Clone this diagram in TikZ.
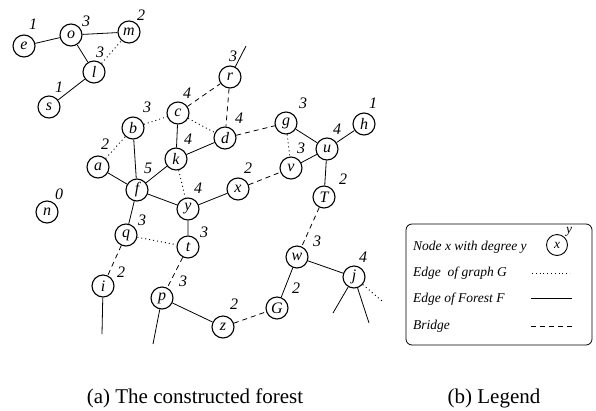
\documentclass[tikz,border=0pt]{standalone}
\usepackage{fontspec}
\setmainfont{Liberation Serif}
\begin{document}
\begin{tikzpicture}[x=1pt,y=-1pt,
  vtx/.style={circle,draw,line width=1.1pt,minimum size=22pt,inner sep=0pt,font=\fontsize{16}{16}\selectfont\itshape},
  deg/.style={font=\fontsize{16}{16}\selectfont\itshape,inner sep=0pt},
  forest/.style={line width=0.8pt},
  gedge/.style={line width=0.9pt,dash pattern=on 1pt off 3pt},
  bridge/.style={line width=0.8pt,dash pattern=on 5pt off 4pt},
  legtxt/.style={anchor=west,inner sep=0pt,font=\fontsize{13.5}{13.5}\selectfont\itshape},
  captxt/.style={inner sep=0pt,anchor=base,font=\fontsize{21}{21}\selectfont}
  ]
\useasboundingbox (0,0) rectangle (596,410);
% vertices
\node[vtx] (e) at (24,46) {e};
\node[vtx] (o) at (71,35) {o};
\node[vtx] (m) at (129,32) {m};
\node[vtx] (l) at (94,72) {l};
\node[vtx] (s) at (49,107) {s};
\node[vtx] (b) at (133,128) {b};
\node[vtx] (c) at (178,113) {c};
\node[vtx] (r) at (230,77) {r};
\node[vtx] (d) at (225,138) {d};
\node[vtx] (k) at (176,159) {k};
\node[vtx] (g) at (286,123) {g};
\node[vtx] (u) at (327,149) {u};
\node[vtx] (h) at (364,124) {h};
\node[vtx] (v) at (291,168) {v};
\node[vtx] (T) at (324,197) {T};
\node[vtx] (x) at (238,189) {x};
\node[vtx] (a) at (98,167) {a};
\node[vtx] (f) at (137,190) {f};
\node[vtx] (y) at (188,209) {y};
\node[vtx] (n) at (47,212) {n};
\node[vtx] (q) at (126,235) {q};
\node[vtx] (t) at (188,247) {t};
\node[vtx] (i) at (103,286) {i};
\node[vtx] (p) at (162,298) {p};
\node[vtx] (z) at (223,327) {z};
\node[vtx] (G) at (277,308) {G};
\node[vtx] (w) at (297,257) {w};
\node[vtx] (j) at (354,277) {j};
% free ends
\coordinate (rtop) at (246,46);
\coordinate (iend) at (102,334);
\coordinate (pend) at (153,344);
\coordinate (j1) at (333,313);
\coordinate (j2) at (369,323);
\coordinate (jdot) at (382,301);
% degree labels
\node[deg] (de) at (33,24) {1};
\node[deg] (do) at (86,21) {3};
\node[deg] (dm) at (141,15) {2};
\node[deg] (dl) at (100,52) {3};
\node[deg] (ds) at (59,87) {1};
\node[deg] (db) at (147,107) {3};
\node[deg] (dc) at (187,93) {4};
\node[deg] (dr) at (233,56) {3};
\node[deg] (dd) at (239,118) {4};
\node[deg] (da) at (105,144) {2};
\node[deg] (dk) at (188,139) {4};
\node[deg] (df) at (148,168) {5};
\node[deg] (dy) at (198,188) {4};
\node[deg] (dx) at (248,168) {2};
\node[deg] (dg) at (303,103) {3};
\node[deg] (dv) at (301,148) {3};
\node[deg] (du) at (337,129) {4};
\node[deg] (dh) at (373,103) {1};
\node[deg] (dT) at (343,179) {2};
\node[deg] (dn) at (59,194) {0};
\node[deg] (dq) at (142,220) {3};
\node[deg] (dt) at (204,232) {3};
\node[deg] (di) at (121,272) {2};
\node[deg] (dp) at (183,281) {3};
\node[deg] (dz) at (234,304) {2};
\node[deg] (dG) at (296,288) {2};
\node[deg] (dw) at (317,241) {3};
\node[deg] (dj) at (363,257) {4};
% forest edges
\draw[forest] (e)--(o) (o)--(m) (o)--(l) (l)--(s)
  (b)--(f) (a)--(f) (f)--(k) (f)--(y) (f)--(q) (k)--(c) (k)--(d)
  (y)--(x) (y)--(t) (g)--(u) (u)--(h) (u)--(v) (u)--(T)
  (w)--(j) (w)--(G) (p)--(z)
  (r)--(rtop) (i)--(iend) (p)--(pend) (j)--(j1) (j)--(j2);
% graph edges
\draw[gedge] (l)--(m) (a)--(b) (b)--(c) (c)--(d) (k)--(y) (g)--(v) (q)--(t) (j)--(jdot);
% bridges
\draw[bridge] (c)--(r) (r)--(d) (d)--(g) (x)--(v) (q)--(i) (t)--(p) (T)--(w) (z)--(G);
% legend
\draw[line width=0.8pt,rounded corners=6pt] (406,224) rectangle (592,345);
\node[legtxt] (l1) at (413,247) {Node x with degree y};
\node[legtxt] (l2) at (413,273) {Edge~ of graph G};
\node[legtxt] (l3) at (413,299) {Edge of Forest F};
\node[legtxt] (l4) at (413,326) {Bridge};
\node[vtx,minimum size=21pt,line width=0.9pt,font=\fontsize{13.5}{13.5}\selectfont\itshape] (lx) at (557,245) {x};
\node[legtxt,anchor=center] (ly) at (569,232) {y};
\coordinate (g1) at (532,273); \coordinate (g2) at (570,273);
\coordinate (f1) at (531,298); \coordinate (f2) at (572,298);
\coordinate (b1) at (531,326); \coordinate (b2) at (572,326);
\draw[gedge,line width=0.6pt,dash pattern=on 0.8pt off 3pt] (g1)--(g2);
\draw[forest] (f1)--(f2);
\draw[bridge,dash pattern=on 5pt off 4pt] (b1)--(b2);
% captions
\node[captxt] (capa) at (195,403) {(a) The constructed forest};
\node[captxt] (capb) at (494,403) {(b) Legend};
\end{tikzpicture}
\end{document}
